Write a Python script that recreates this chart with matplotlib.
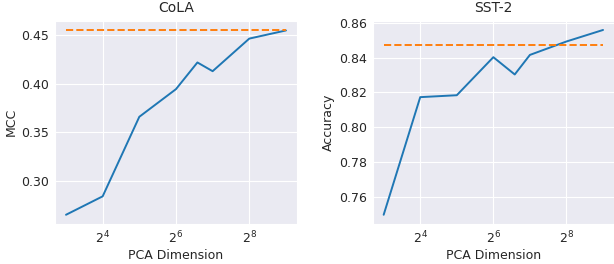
import matplotlib
matplotlib.use("Agg")
import matplotlib.pyplot as plt
import seaborn as sns

# PCA dimensions
dims = [8, 16, 32, 64, 96, 128, 256, 512]

# CoLA (MCC)
cola_mcc = [0.265, 0.284, 0.366, 0.3945, 0.422, 0.413, 0.4466, 0.455]
cola_full = 0.4555

# SST-2 (accuracy)
sst2_acc = [0.7499, 0.8173, 0.8184, 0.8402, 0.8303, 0.8415, 0.8492, 0.8558]
sst2_full = 0.8473

xticks = [16, 64, 256]
xtick_labels = [r"$2^4$", r"$2^6$", r"$2^8$"]

sns.set_style("darkgrid")
plt.rcParams["font.family"] = ["DejaVu Sans"]

fig = plt.figure(figsize=(6.14, 2.64), dpi=100)
ax1 = fig.add_axes([0.0896, 0.1515, 0.394, 0.770])
ax2 = fig.add_axes([0.607, 0.1515, 0.393, 0.770])

panels = [
    (ax1, cola_mcc, cola_full, "CoLA", "MCC"),
    (ax2, sst2_acc, sst2_full, "SST-2", "Accuracy"),
]

for ax, vals, full, title, ylabel in panels:
    ax.plot(dims, vals, color="tab:blue", lw=1.4)
    ax.plot([dims[0], dims[-1]], [full, full], color="tab:orange", ls="--", lw=1.4)
    ax.set_xscale("log", base=2)
    ax.set_xticks(xticks)
    ax.set_xticklabels(xtick_labels)
    ax.minorticks_off()
    ax.set_title(title, fontsize=10, color=".15")
    ax.set_ylabel(ylabel, fontsize=9, color=".15", labelpad=3)
    ax.set_xlabel("PCA Dimension", fontsize=9, color=".15", labelpad=2)
    ax.tick_params(labelsize=9, colors=".15", length=0, pad=4)

ax1.set_yticks([0.30, 0.35, 0.40, 0.45])
ax2.set_yticks([0.76, 0.78, 0.80, 0.82, 0.84, 0.86])

fig.savefig("out.png", dpi=100)
